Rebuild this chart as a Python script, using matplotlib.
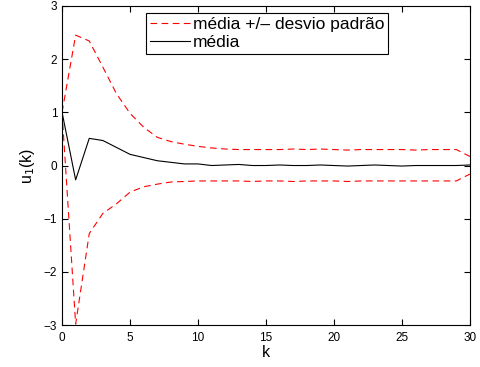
import numpy as np
import matplotlib.pyplot as plt

plt.rcParams['font.family'] = ['Liberation Sans', 'DejaVu Sans']

k = np.arange(0, 31)
media = [1.0, -0.27, 0.51, 0.47, 0.34, 0.21, 0.15, 0.09, 0.06, 0.03,
         0.03, 0.0, 0.01, 0.02, 0.0, 0.0, 0.01, 0.0, 0.0, 0.01,
         0.0, -0.01, 0.0, 0.01, 0.0, -0.01, 0.0, 0.0, 0.0, 0.0, 0.01]
superior = [1.0, 2.45, 2.34, 1.85, 1.35, 0.98, 0.72, 0.53, 0.45, 0.40,
            0.36, 0.33, 0.31, 0.30, 0.30, 0.30, 0.30, 0.31, 0.30, 0.31,
            0.30, 0.29, 0.30, 0.30, 0.30, 0.30, 0.29, 0.30, 0.30, 0.30, 0.17]
inferior = [1.0, -2.98, -1.28, -0.90, -0.72, -0.50, -0.40, -0.35, -0.31, -0.30,
            -0.29, -0.29, -0.29, -0.29, -0.30, -0.29, -0.29, -0.30, -0.29, -0.29,
            -0.29, -0.30, -0.29, -0.29, -0.29, -0.29, -0.29, -0.29, -0.29, -0.29, -0.16]

fig = plt.figure(figsize=(4.81, 3.67), dpi=100)
ax = fig.add_axes([0.129, 0.114, 0.848, 0.870])

l1, = ax.plot(k, superior, 'r--', lw=0.8, dashes=(6, 4))
ax.plot(k, inferior, 'r--', lw=0.8, dashes=(6, 4))
l2, = ax.plot(k, media, 'k-', lw=0.8)

ax.set_xlim(0, 30)
ax.set_ylim(-3, 3)
ax.set_xticks(np.arange(0, 31, 5))
ax.set_yticks(np.arange(-3, 4, 1))
ax.set_yticklabels(['\u22123', '\u22122', '\u22121', '0', '1', '2', '3'])
ax.tick_params(direction='in', top=True, right=True, labelsize=8.5, length=4, width=0.8)
ax.tick_params(axis='x', pad=5)
for s in ax.spines.values():
    s.set_linewidth(0.8)

ax.set_xlabel('k', fontsize=11.5, labelpad=1)
ax.set_ylabel('u$_1$(k)', fontsize=11.5, labelpad=5)

leg = ax.legend([l1, l2], ['média +/\u2013 desvio padrão', 'média'],
                loc='upper right', bbox_to_anchor=(0.80, 0.978), borderaxespad=0,
                fancybox=False, edgecolor='black', framealpha=1, fontsize=12.5,
                handlelength=2.3, handletextpad=0.15, borderpad=0.25, labelspacing=0.15)
leg.get_frame().set_linewidth(0.8)

fig.savefig('out.png', dpi=100)
